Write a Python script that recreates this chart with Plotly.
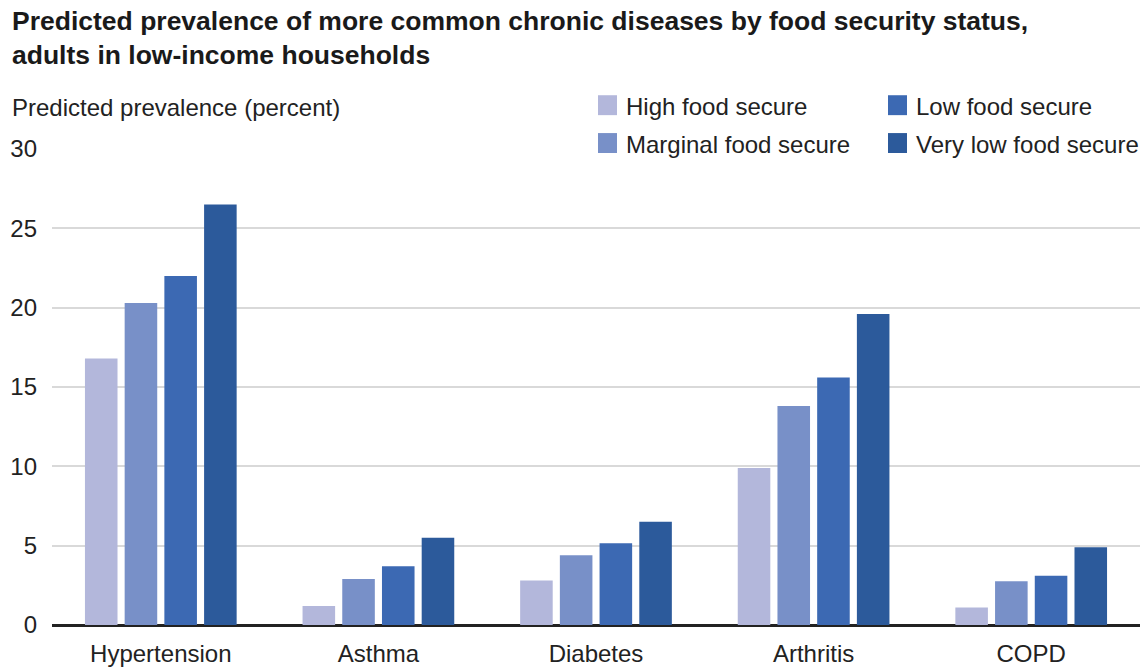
import plotly.graph_objects as go

# Chronic disease categories and predicted prevalence (percent) by food security status
diseases = ["Hypertension", "Asthma", "Diabetes", "Arthritis", "COPD"]
series_names = ["High food secure", "Marginal food secure", "Low food secure", "Very low food secure"]
high_secure = [16.8, 1.2, 2.8, 9.9, 1.1]
marginal_secure = [20.3, 2.9, 4.4, 13.8, 2.75]
low_secure = [22.0, 3.7, 5.15, 15.6, 3.1]
very_low_secure = [26.5, 5.5, 6.5, 19.6, 4.9]
y_ticks = [0, 5, 10, 15, 20, 25, 30]

colors = ["#b3b7db", "#7890c8", "#3c69b3", "#2c5a9b"]
values = [high_secure, marginal_secure, low_secure, very_low_secure]

W, H = 1141, 668
L, R, T, B = 52, 1, 149, 41
PW, PH = W - L - R, H - T - B

FONT = "Liberation Sans, Arial, Helvetica, sans-serif"
TXT = "#222222"


def px_x(px):
    return (px - L) / PW


def px_y(py):
    return (H - B - py) / PH


fig = go.Figure()
for name, vals, col in zip(series_names, values, colors):
    fig.add_trace(go.Bar(
        x=diseases, y=vals, name=name,
        marker=dict(color=col, line=dict(width=0)),
        showlegend=False,
    ))

# Legend drawn as swatches + labels, two columns (column-major order)
legend_cells = [(0, 0), (0, 1), (1, 0), (1, 1)]  # (column, row) for each series
col_swatch_x = [598, 888]
row_center_y = [105, 143]
shapes = [
    # white band behind the legend, interrupting the top gridline
    dict(type="rect", xref="paper", yref="paper",
         x0=px_x(576), x1=px_x(W), y0=px_y(160), y1=px_y(86),
         fillcolor="white", line=dict(width=0), layer="above"),
]
annotations = []
for (c, r), name, col in zip(legend_cells, series_names, colors):
    sx = col_swatch_x[c]
    cy = row_center_y[r]
    shapes.append(dict(type="rect", xref="paper", yref="paper",
                       x0=px_x(sx), x1=px_x(sx + 19), y0=px_y(cy + 10), y1=px_y(cy - 10),
                       fillcolor=col, line=dict(width=0), layer="above"))
    annotations.append(dict(text=name, xref="paper", yref="paper",
                            x=px_x(sx + 26), y=px_y(cy + 1), xanchor="left", yanchor="middle",
                            showarrow=False, font=dict(family=FONT, size=24, color=TXT)))

# Two-line bold heading
annotations.append(dict(
    text="<b>Predicted prevalence of more common chronic diseases by food security status,<br>"
         "adults in low-income households</b>",
    xref="paper", yref="paper", x=px_x(10), y=px_y(3), xanchor="left", yanchor="top",
    align="left", showarrow=False, font=dict(family=FONT, size=26.5, color="#1a1a1a"),
))

# Y-axis caption placed horizontally above the plot
annotations.append(dict(text="Predicted prevalence (percent)", xref="paper", yref="paper",
                        x=px_x(10), y=px_y(107), xanchor="left", yanchor="middle",
                        showarrow=False, font=dict(family=FONT, size=24, color=TXT)))

fig.update_layout(
    width=W, height=H,
    margin=dict(l=L, r=R, t=T, b=B, pad=0),
    paper_bgcolor="white", plot_bgcolor="white",
    barmode="group", bargap=0.27, bargroupgap=0.18,
    font=dict(family=FONT, size=24, color=TXT),
    xaxis=dict(showgrid=False, showline=False, ticks="", ticklabelstandoff=12,
               tickfont=dict(family=FONT, size=24, color=TXT)),
    yaxis=dict(range=[0, 30], tickvals=y_ticks, showgrid=True, gridcolor="#d9d9d9", gridwidth=2,
               zeroline=True, zerolinecolor=TXT, zerolinewidth=3,
               showline=False, ticks="", ticklabelstandoff=14,
               tickfont=dict(family=FONT, size=24, color=TXT)),
    shapes=shapes, annotations=annotations,
)

fig.write_html("out.html")
